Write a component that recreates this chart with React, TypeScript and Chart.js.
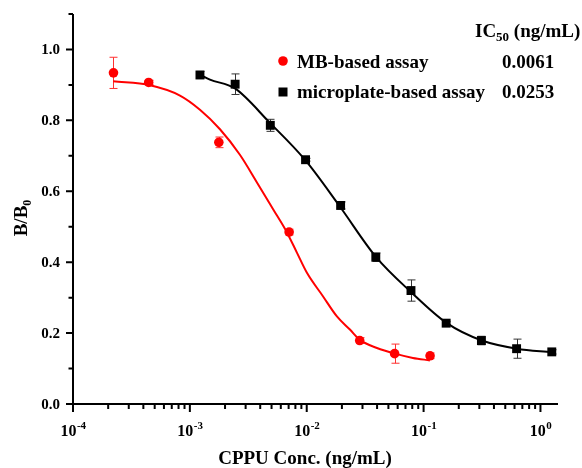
import React, { useEffect, useRef } from "react";
import { Chart, registerables } from "chart.js";

Chart.register(...registerables);

// ---- axis ranges ----
const X_MIN = 1e-4;
const X_MAX = 1.413;
const Y_MIN = 0;
const Y_MAX = 1.1;

// ---- MB-based assay (red circles) ----
const mbConc = [0.000222, 0.000444, 0.00177, 0.00707, 0.0284, 0.0565, 0.1136];
const mbValue = [0.934, 0.907, 0.738, 0.485, 0.179, 0.142, 0.136];
const mbError = [0.044, 0.006, 0.015, 0.008, 0.008, 0.027, 0.008];

// ---- microplate-based assay (black squares) ----
const mpConc = [0.00122, 0.00244, 0.00488, 0.00977, 0.0195, 0.039, 0.078, 0.156, 0.3125, 0.625, 1.25];
const mpValue = [0.928, 0.902, 0.786, 0.689, 0.56, 0.414, 0.32, 0.228, 0.179, 0.156, 0.147];
const mpError = [0.01, 0.029, 0.017, 0.004, 0.01, 0.012, 0.03, 0.005, 0.012, 0.027, 0.006];

// ---- fitted curves ----
const mbFitConc = [0.000221, 0.000456, 0.000823, 0.00122, 0.00181, 0.00268, 0.00375, 0.00514, 0.00677, 0.00824, 0.01004, 0.01376, 0.01813, 0.02342, 0.0285, 0.0399, 0.0568, 0.081, 0.1132];
const mbFitValue = [0.91, 0.899, 0.87, 0.83, 0.775, 0.703, 0.625, 0.55, 0.484, 0.427, 0.37, 0.304, 0.247, 0.21, 0.181, 0.158, 0.142, 0.13, 0.123];
const mpFitConc = [0.00122, 0.001486, 0.00243, 0.00484, 0.00965, 0.0192, 0.0391, 0.0779, 0.1582, 0.3152, 0.628, 1.252];
const mpFitValue = [0.929, 0.915, 0.89, 0.793, 0.689, 0.557, 0.415, 0.316, 0.228, 0.179, 0.156, 0.146];

// ---- labels ----
const xTickExponents = ["-4", "-3", "-2", "-1", "0"];
const yTickValues = [0, 0.2, 0.4, 0.6, 0.8, 1.0];
const yTickLabels = ["0.0", "0.2", "0.4", "0.6", "0.8", "1.0"];
const seriesNames = ["MB-based assay", "microplate-based assay"];
const ic50Labels = ["0.0061", "0.0253"];
const xTitle = "CPPU Conc. (ng/mL)";

const FONT = '"Liberation Serif", "Times New Roman", serif';
const RED = "#ff0000";
const BLACK = "#000000";

const overlay = {
  id: "overlay",
  beforeDatasetsDraw(chart: any) {
    const ctx = chart.ctx;
    const xs = chart.scales.x;
    const ys = chart.scales.y;
    const drawBars = (conc: number[], val: number[], err: number[], color: string) => {
      ctx.save();
      ctx.strokeStyle = color;
      ctx.lineWidth = 1;
      for (let i = 0; i < conc.length; i++) {
        const px = Math.round(xs.getPixelForValue(conc[i])) + 0.5;
        const yt = ys.getPixelForValue(val[i] + err[i]);
        const yb = ys.getPixelForValue(val[i] - err[i]);
        ctx.beginPath();
        ctx.moveTo(px, yt);
        ctx.lineTo(px, yb);
        ctx.moveTo(px - 4, yt);
        ctx.lineTo(px + 4, yt);
        ctx.moveTo(px - 4, yb);
        ctx.lineTo(px + 4, yb);
        ctx.stroke();
      }
      ctx.restore();
    };
    drawBars(mbConc, mbValue, mbError, "#ff3030");
    drawBars(mpConc, mpValue, mpError, "#333333");
  },
  afterDraw(chart: any) {
    const ctx = chart.ctx;
    const xs = chart.scales.x;
    const ys = chart.scales.y;
    const { left, right, top, bottom } = chart.chartArea;
    ctx.save();
    ctx.strokeStyle = BLACK;
    ctx.fillStyle = BLACK;
    ctx.lineWidth = 2;
    // axes
    ctx.beginPath();
    ctx.moveTo(left, top);
    ctx.lineTo(left, bottom + 1);
    ctx.moveTo(left - 1, bottom);
    ctx.lineTo(right, bottom);
    ctx.stroke();
    // y ticks
    ctx.beginPath();
    for (let k = 0; k <= 11; k++) {
      const py = ys.getPixelForValue(k / 10);
      const len = k % 2 === 0 ? 7 : 4.5;
      ctx.moveTo(left, py);
      ctx.lineTo(left - len, py);
    }
    // x ticks
    for (let e = -4; e <= 0; e++) {
      for (let m = 1; m <= 9; m++) {
        const v = m * Math.pow(10, e);
        if (v > X_MAX) continue;
        const px = xs.getPixelForValue(v);
        const len = m === 1 ? 8 : 5;
        ctx.moveTo(px, bottom);
        ctx.lineTo(px, bottom + len);
      }
    }
    ctx.stroke();
    // y tick labels
    ctx.font = `bold 15px ${FONT}`;
    ctx.textAlign = "right";
    ctx.textBaseline = "middle";
    yTickValues.forEach((v, i) => {
      ctx.fillText(yTickLabels[i], left - 13, ys.getPixelForValue(v) + 1);
    });
    // x tick labels
    ctx.textBaseline = "alphabetic";
    ctx.textAlign = "left";
    xTickExponents.forEach((ex) => {
      const px = xs.getPixelForValue(Math.pow(10, Number(ex)));
      ctx.font = `bold 16px ${FONT}`;
      const w1 = ctx.measureText("10").width;
      ctx.font = `bold 11px ${FONT}`;
      const w2 = ctx.measureText(ex).width;
      const x0 = px - (w1 + w2) / 2;
      ctx.font = `bold 16px ${FONT}`;
      ctx.fillText("10", x0, 436);
      ctx.font = `bold 11px ${FONT}`;
      ctx.fillText(ex, x0 + w1 + 0.5, 429);
    });
    // x title
    ctx.font = `bold 19px ${FONT}`;
    ctx.textAlign = "center";
    ctx.fillText(xTitle, 305, 464);
    // y title: B/B0 rotated
    ctx.save();
    ctx.translate(27, 218);
    ctx.rotate(-Math.PI / 2);
    ctx.font = `bold 19px ${FONT}`;
    const wB = ctx.measureText("B/B").width;
    ctx.font = `bold 12px ${FONT}`;
    const w0 = ctx.measureText("0").width;
    const sx = -(wB + w0) / 2;
    ctx.textAlign = "left";
    ctx.font = `bold 19px ${FONT}`;
    ctx.fillText("B/B", sx, 0);
    ctx.font = `bold 12px ${FONT}`;
    ctx.fillText("0", sx + wB, 4);
    ctx.restore();
    // legend header
    ctx.textAlign = "left";
    ctx.font = `bold 19px ${FONT}`;
    ctx.fillText("IC", 475, 37);
    const wIC = ctx.measureText("IC").width;
    ctx.font = `bold 13px ${FONT}`;
    ctx.fillText("50", 475 + wIC, 41);
    const w50 = ctx.measureText("50").width;
    ctx.font = `bold 19px ${FONT}`;
    ctx.fillText(" (ng/mL)", 475 + wIC + w50, 37);
    // legend entries
    const rows = [68, 97.5];
    ctx.fillStyle = RED;
    ctx.beginPath();
    ctx.arc(283, 61, 4.8, 0, Math.PI * 2);
    ctx.fill();
    ctx.fillStyle = BLACK;
    ctx.fillRect(278.5, 87.5, 9, 9);
    seriesNames.forEach((name, i) => {
      ctx.fillText(name, 297, rows[i]);
      ctx.fillText(ic50Labels[i], 502, rows[i]);
    });
    ctx.restore();
  },
};

export default function App() {
  const canvasRef = useRef<HTMLCanvasElement | null>(null);
  useEffect(() => {
    document.body.style.margin = "0";
    const canvas = canvasRef.current;
    if (!canvas) return;
    const chart = new Chart(canvas, {
      type: "line",
      data: {
        datasets: [
          {
            data: mbFitConc.map((x, i) => ({ x, y: mbFitValue[i] })),
            borderColor: RED,
            borderWidth: 2,
            pointRadius: 0,
            cubicInterpolationMode: "monotone",
            fill: false,
          },
          {
            data: mpFitConc.map((x, i) => ({ x, y: mpFitValue[i] })),
            borderColor: BLACK,
            borderWidth: 2,
            pointRadius: 0,
            cubicInterpolationMode: "monotone",
            fill: false,
          },
          {
            data: mbConc.map((x, i) => ({ x, y: mbValue[i] })),
            showLine: false,
            pointStyle: "circle",
            pointRadius: 4.8,
            pointBackgroundColor: RED,
            pointBorderWidth: 0,
            borderColor: RED,
          },
          {
            data: mpConc.map((x, i) => ({ x, y: mpValue[i] })),
            showLine: false,
            pointStyle: "rect",
            pointRadius: 6.3,
            pointBackgroundColor: BLACK,
            pointBorderWidth: 0,
            borderColor: BLACK,
          },
        ],
      } as any,
      options: {
        responsive: false,
        animation: false,
        devicePixelRatio: 1,
        events: [],
        layout: { autoPadding: false, padding: { top: 14, right: 24, left: 0, bottom: 0 } },
        plugins: { legend: { display: false }, tooltip: { enabled: false } },
        scales: {
          x: {
            type: "logarithmic",
            min: X_MIN,
            max: X_MAX,
            grid: { display: false },
            border: { display: false },
            ticks: { display: false },
            afterFit: (s: any) => {
              s.height = 64;
            },
          },
          y: {
            type: "linear",
            min: Y_MIN,
            max: Y_MAX,
            grid: { display: false },
            border: { display: false },
            ticks: { display: false },
            afterFit: (s: any) => {
              s.width = 73;
            },
          },
        },
      } as any,
      plugins: [overlay],
    });
    return () => chart.destroy();
  }, []);
  return (
    <div style={{ width: 582, height: 468, background: "#fff" }}>
      <canvas ref={canvasRef} width={582} height={468} />
    </div>
  );
}
